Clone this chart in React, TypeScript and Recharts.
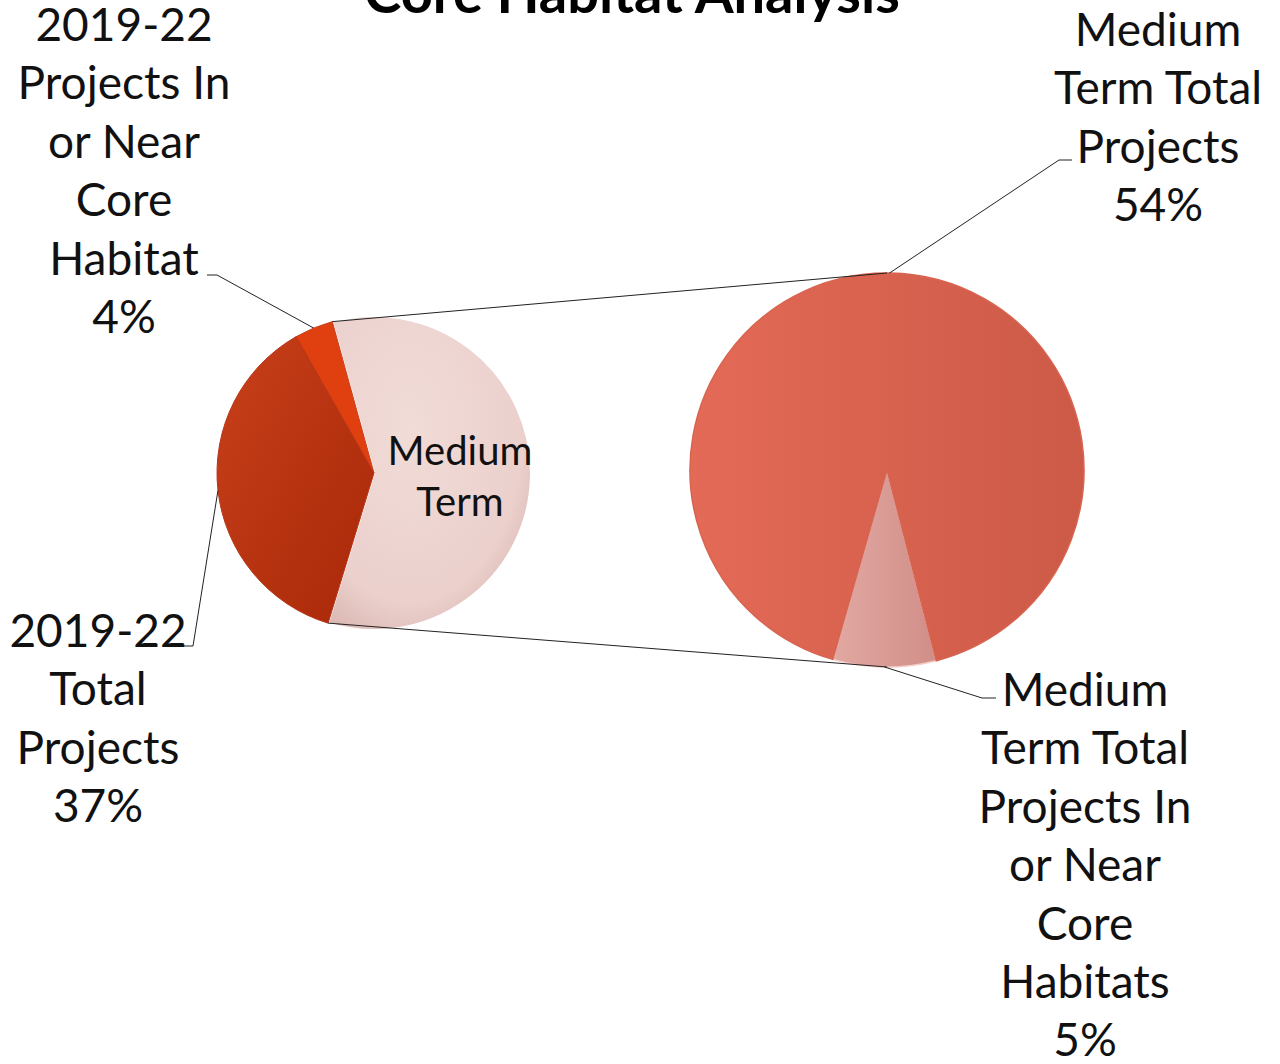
import { PieChart, Pie, Cell } from 'recharts';

// primary pie (2019-22) and the split-out secondary pie (Medium Term)
const title = 'Core Habitat Analysis';
const mainCategories = ['2019-22\nProjects In\nor Near\nCore\nHabitat', '2019-22\nTotal\nProjects'];
const mainValues = [4, 37];
const splitGroup = 'Medium\nTerm';
const splitCategories = ['Medium\nTerm Total\nProjects In\nor Near\nCore\nHabitats', 'Medium\nTerm Total\nProjects'];
const splitValues = [5, 54];

const splitTotal = splitValues.reduce((a, b) => a + b, 0);

const leftData = [
  { name: splitGroup, value: splitTotal },
  ...mainCategories.map((name, i) => ({ name, value: mainValues[i] })),
];
const rightData = splitCategories.map((name, i) => ({ name, value: splitValues[i] }));

const W = 1280;
const H = 1064;
const LEFT = { cx: 374, cy: 473, r: 157 };
const RIGHT = { cx: 887, cy: 470, r: 197 };
const START = -107;
const FONT = 'Lato, "Open Sans", sans-serif';
const LINE_H = 58.4;

const leftFills = ['url(#gMedium)', '#e0400f', 'url(#gTotal)'];
const leftStrokes = ['#ffffff', '#c8401c', '#b83414'];
const rightFills = ['url(#gSmall)', 'url(#gBig)'];
const rightStrokes = ['#f3cdc8', '#d86450'];

// where each outside label sits: text centre, first baseline, leader elbow + end
type Spot = { tx: number; ty: number; elbow: [number, number]; end: [number, number] };
const leftSpots: (Spot | null)[] = [
  null,
  { tx: 124, ty: 41, elbow: [217, 275], end: [207, 275] },
  { tx: 98, ty: 647, elbow: [193, 646], end: [181, 646] },
];
const rightSpots: Spot[] = [
  { tx: 1085, ty: 706, elbow: [982, 698], end: [996, 698] },
  { tx: 1158, ty: 46, elbow: [1059, 160], end: [1072, 160] },
];

const RAD = Math.PI / 180;
const onEdge = (cx: number, cy: number, r: number, a: number) => [
  cx + r * Math.cos(-a * RAD),
  cy + r * Math.sin(-a * RAD),
];

const Lines = ({ x, y, lines, size }: { x: number; y: number; lines: string[]; size: number }) => (
  <text x={x} y={y} textAnchor="middle" fontFamily={FONT} fontSize={size} fill="#111">
    {lines.map((t, i) => (
      <tspan key={i} x={x} y={y + i * LINE_H * (size / 46)}>
        {t}
      </tspan>
    ))}
  </text>
);

const outerLabel = (p: any, spot: Spot) => {
  const [sx, sy] = onEdge(p.cx, p.cy, p.outerRadius, p.midAngle);
  const lines = [...String(p.name).split('\n'), `${p.value}%`];
  return (
    <g>
      <polyline
        points={`${sx},${sy} ${spot.elbow[0]},${spot.elbow[1]} ${spot.end[0]},${spot.end[1]}`}
        fill="none"
        stroke="#222"
        strokeWidth={1}
      />
      <Lines x={spot.tx} y={spot.ty} lines={lines} size={46} />
    </g>
  );
};

const renderLeftLabel = (p: any) => {
  const spot = leftSpots[p.index];
  if (spot) return outerLabel(p, spot);
  // split slice: inside label + connectors to the secondary pie
  const top = onEdge(p.cx, p.cy, p.outerRadius, p.endAngle);
  const bottom = onEdge(p.cx, p.cy, p.outerRadius, p.startAngle);
  return (
    <g>
      <line x1={top[0]} y1={top[1]} x2={RIGHT.cx} y2={RIGHT.cy - RIGHT.r} stroke="#222" strokeWidth={1} />
      <line x1={bottom[0]} y1={bottom[1]} x2={RIGHT.cx} y2={RIGHT.cy + RIGHT.r} stroke="#222" strokeWidth={1} />
      <Lines x={460} y={465} lines={String(p.name).split('\n')} size={40} />
    </g>
  );
};

const renderRightLabel = (p: any) => outerLabel(p, rightSpots[p.index]);

const App = () => {
  return (
    <div style={{ position: 'absolute', left: 0, top: 0, width: W, height: H, background: '#fff' }}>
      <PieChart width={W} height={H} margin={{ top: 0, right: 0, bottom: 0, left: 0 }}>
        <defs>
          <radialGradient id="gMedium" cx="40%" cy="35%" r="75%">
            <stop offset="0%" stopColor="#f1dcd8" />
            <stop offset="75%" stopColor="#ebd0cc" />
            <stop offset="100%" stopColor="#d9b5b0" />
          </radialGradient>
          <linearGradient id="gTotal" x1="0" y1="0" x2="1" y2="1">
            <stop offset="0%" stopColor="#c8401a" />
            <stop offset="100%" stopColor="#a82808" />
          </linearGradient>
          <linearGradient id="gBig" x1="0" y1="0" x2="1" y2="0">
            <stop offset="0%" stopColor="#e36a56" />
            <stop offset="100%" stopColor="#cc5a47" />
          </linearGradient>
          <linearGradient id="gSmall" x1="0" y1="0" x2="1" y2="0">
            <stop offset="0%" stopColor="#e2a8a2" />
            <stop offset="100%" stopColor="#d18e88" />
          </linearGradient>
        </defs>
        <text x={632} y={13} textAnchor="middle" fontFamily={FONT} fontSize={56} fontWeight="bold" fill="#000">
          {title}
        </text>
        <Pie
          data={leftData}
          dataKey="value"
          nameKey="name"
          cx={LEFT.cx}
          cy={LEFT.cy}
          outerRadius={LEFT.r}
          startAngle={START}
          endAngle={START + 360}
          label={renderLeftLabel}
          labelLine={false}
          isAnimationActive={false}
        >
          {leftData.map((d, i) => (
            <Cell key={d.name} fill={leftFills[i]} stroke={leftStrokes[i]} strokeWidth={i === 0 ? 2 : 1} />
          ))}
        </Pie>
        <Pie
          data={rightData}
          dataKey="value"
          nameKey="name"
          cx={RIGHT.cx}
          cy={RIGHT.cy}
          outerRadius={RIGHT.r}
          startAngle={START + 1}
          endAngle={START + 361}
          label={renderRightLabel}
          labelLine={false}
          isAnimationActive={false}
        >
          {rightData.map((d, i) => (
            <Cell key={d.name} fill={rightFills[i]} stroke={rightStrokes[i]} strokeWidth={1.5} />
          ))}
        </Pie>
      </PieChart>
    </div>
  );
};

export default App;
